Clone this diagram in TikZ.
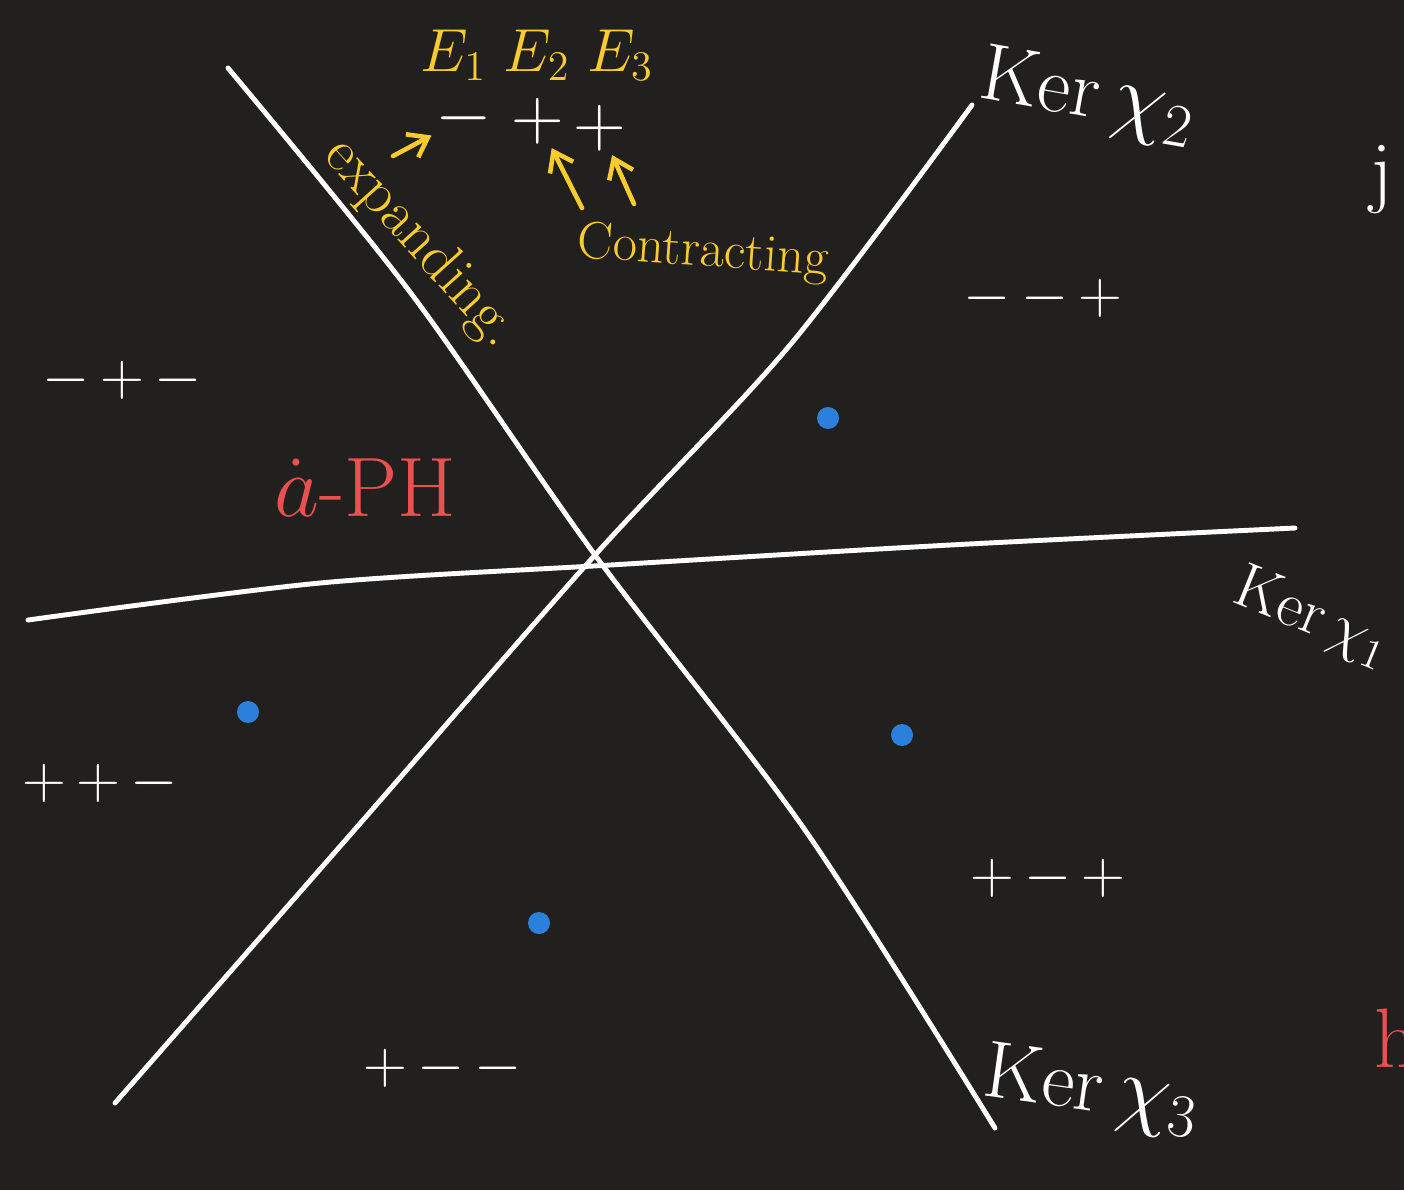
\documentclass[tikz,border=0pt]{standalone}
\usepackage{xcolor}
\usepackage{tikz}
\usetikzlibrary{arrows.meta, positioning}
\definecolor{myboard}{HTML}{21201F}
\definecolor{mychalk}{HTML}{FFFFFF}
\definecolor{myyellow}{HTML}{F9CB2E}
\definecolor{myred}{HTML}{E9504F}
\definecolor{myblue}{HTML}{2A80DA}
\tikzset{
wall/.style={
draw=mychalk,
line width=1.4pt,
line cap=round
},
signlabel/.style={
text=mychalk,
font=\fontsize{17}{20}\selectfont
},
kerlabel/.style={
text=mychalk,
font=\fontsize{23}{26}\selectfont
},
notelabel/.style={
text=myyellow,
font=\fontsize{17}{20}\selectfont
},
phaselabel/.style={
text=myred,
font=\fontsize{24}{28}\selectfont
},
fixdot/.style={
circle,
fill=myblue,
inner sep=0pt,
minimum size=0.22cm
},
notearrow/.style={
-{Straight Barb[length=1.8mm,width=2.6mm]},
line width=1.3pt,
line cap=round,
draw=myyellow
}
}

\begin{document}
\begin{tikzpicture}[
x=0.01cm, y=-0.01cm,
every node/.style={inner sep=1pt}
]

\useasboundingbox (0,0) rectangle (1404,1190);
\fill[myboard] (0,0) rectangle (1404,1190);
\clip (0,0) rectangle (1404,1190);

% the three walls
\draw[wall] plot[smooth] coordinates
  {(28,620) (320,583) (610,565) (950,545) (1295,528)};
\draw[wall] plot[smooth] coordinates
  {(115,1103) (350,835) (595,555) (790,345) (972,105)};
\draw[wall] plot[smooth] coordinates
  {(228,68) (410,292) (595,555) (805,830) (995,1128)};

\node[kerlabel, rotate=-10] (ker2) at (1088,98) {Ker$\,\chi_2$};
\node[kerlabel, rotate=-22, font=\fontsize{18}{20}\selectfont] (ker1) at (1312,618) {Ker$\,\chi_1$};
\node[kerlabel, rotate=-8] (ker3) at (1092,1092) {Ker$\,\chi_3$};

% signs of the eigenvalues
\node[notelabel] (eigen) at (537,55) {$E_1\;E_2\;E_3$};
\node[signlabel, font=\fontsize{20}{24}\selectfont] (sgnA) at (464,118) {$-$};
\node[signlabel, font=\fontsize{20}{24}\selectfont] (sgnB) at (538,121) {$+$};
\node[signlabel, font=\fontsize{20}{24}\selectfont] (sgnC) at (600,128) {$+$};

\node[notelabel, rotate=-48] (expanding) at (420,243) {expanding.};
\node[notelabel, rotate=-4, font=\fontsize{15}{18}\selectfont] (contracting) at (703,253) {Contracting};

\coordinate (expTail) at (393,156);
\coordinate (conTailB) at (582,208);
\coordinate (conTailC) at (634,204);
\draw[notearrow] (expTail) -- (sgnA);
\draw[notearrow] (conTailB) -- (sgnB);
\draw[notearrow] (conTailC) -- (sgnC);

% chambers
\node[signlabel] (upright) at (1043,298) {${-}\,{-}\,{+}$};
\node[signlabel] (upleft) at (122,380) {${-}\,{+}\,{-}$};
\node[signlabel] (lowleft) at (100,783) {${+}\,{+}\,{-}$};
\node[signlabel] (lowright) at (1048,878) {${+}\,{-}\,{+}$};
\node[signlabel] (bottom) at (443,1068) {${+}\,{-}\,{-}$};

\node[phaselabel] (adot) at (365,488) {$\dot{a}$-PH};

% fixed points
\node[fixdot] (dotA) at (828,418) {};
\node[fixdot] (dotB) at (248,712) {};
\node[fixdot] (dotC) at (902,735) {};
\node[fixdot] (dotD) at (539,923) {};

% cut-off letters at the edge
\node[kerlabel] (edgeJ) at (1382,180) {j};
\node[phaselabel] (edgeH) at (1396,1038) {h};

\end{tikzpicture}
\end{document}
